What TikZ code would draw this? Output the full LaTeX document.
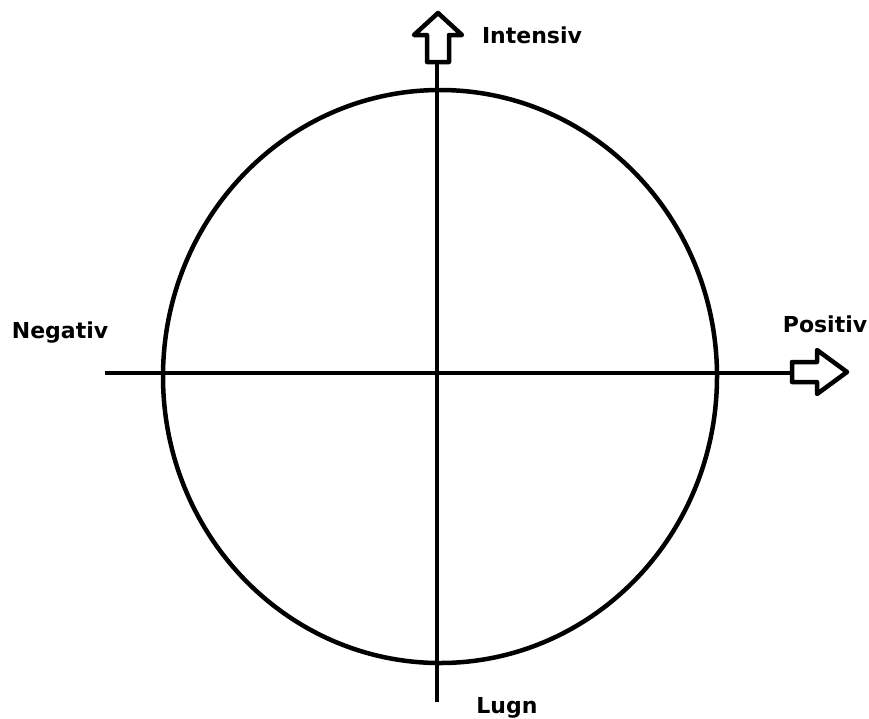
\documentclass[tikz,border=0pt]{standalone}
\usepackage{fontspec}
\newfontfamily\labelfont{DejaVu Sans}
\tikzset{
  axisline/.style={line width=4.5pt},
  blockarrow/.style={line width=4.5pt, line join=round, fill=white},
  axislabel/.style={font=\labelfont\bfseries\fontsize{22}{24}\selectfont, anchor=base, inner sep=0pt}
}
\begin{document}
\begin{tikzpicture}[x=1pt, y=-1pt]
  \useasboundingbox (0,0) rectangle (869,718);
  % Circle
  \draw[axisline] (440,376.5) ellipse (277pt and 286.5pt);
  % Axes
  \coordinate (left) at (105,373);
  \coordinate (right) at (792,373);
  \coordinate (top) at (437,62);
  \coordinate (bottom) at (437,702);
  \draw[axisline] (left) -- (right);
  \draw[axisline] (bottom) -- (top);
  % Hollow arrow heads
  \draw[blockarrow] (427,62) -- (427,35) -- (414,35) -- (438,13) -- (462,35)
    -- (449,35) -- (449,62) -- cycle;
  \draw[blockarrow] (792,362) -- (817,362) -- (817,350) -- (847,372) -- (817,394)
    -- (817,382) -- (792,382) -- cycle;
  % Labels
  \node[axislabel] (intensiv) at (532,43) {Intensiv};
  \node[axislabel] (positiv) at (825,332) {Positiv};
  \node[axislabel] (negativ) at (60,338) {Negativ};
  \node[axislabel] (lugn) at (507,713) {Lugn};
\end{tikzpicture}
\end{document}
